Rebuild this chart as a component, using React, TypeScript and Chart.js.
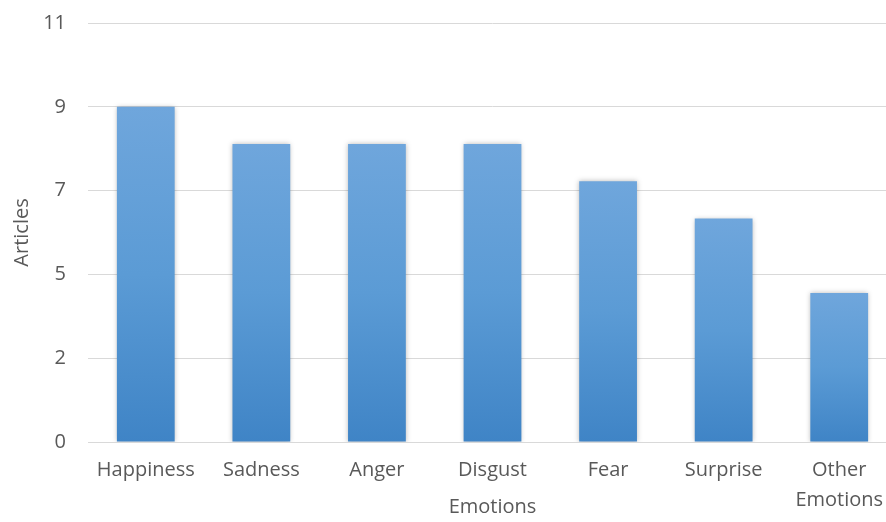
import React, { useEffect, useRef } from "react";
import { Chart, registerables } from "chart.js";

Chart.register(...registerables);

const categories: (string | string[])[] = [
  "Happiness",
  "Sadness",
  "Anger",
  "Disgust",
  "Fear",
  "Surprise",
  ["Other", "Emotions"],
];
const articles: number[] = [9, 8, 8, 8, 7, 6, 4];
const yMax = 11.25;
const yStep = 2.25;
const xTitle = "Emotions";
const yTitle = "Articles";

const FONT = "'Open Sans', 'DejaVu Sans', sans-serif";
const TEXT = "#595959";
const GRID = "#d9d9d9";

const shadowPlugin = {
  id: "barShadow",
  beforeDatasetsDraw(chart: any) {
    const ctx = chart.ctx;
    ctx.save();
    ctx.shadowColor = "rgba(0,0,0,0.28)";
    ctx.shadowBlur = 5;
    ctx.shadowOffsetX = 0;
    ctx.shadowOffsetY = 0;
  },
  afterDatasetsDraw(chart: any) {
    chart.ctx.restore();
  },
};

export default function App() {
  const ref = useRef<HTMLCanvasElement | null>(null);
  useEffect(() => {
    if (!ref.current) return;
    const chart = new Chart(ref.current, {
      type: "bar",
      data: {
        labels: categories,
        datasets: [
          {
            label: yTitle,
            data: articles,
            backgroundColor: (c: any) => {
              const chart = c.chart;
              const area = chart.chartArea;
              if (!area || c.dataIndex === undefined) return "#5b9bd5";
              const y = chart.scales.y;
              const v = c.dataset.data[c.dataIndex];
              const top = y.getPixelForValue(v);
              const bottom = y.getPixelForValue(0);
              if (!isFinite(top) || !isFinite(bottom) || top === bottom) return "#5b9bd5";
              const g = chart.ctx.createLinearGradient(0, top, 0, bottom);
              g.addColorStop(0, "#6fa6dc");
              g.addColorStop(0.5, "#5b9bd5");
              g.addColorStop(1, "#3f84c6");
              return g;
            },
            borderWidth: 0,
            barPercentage: 0.5,
            categoryPercentage: 1,
          },
        ],
      },
      options: {
        animation: false,
        responsive: true,
        maintainAspectRatio: false,
        layout: { padding: { top: 23, right: 0, left: 0, bottom: 0 } },
        plugins: {
          legend: { display: false },
          tooltip: { enabled: false },
        },
        scales: {
          x: {
            afterFit: (s: any) => {
              s.height = 80;
              s.paddingLeft = 0;
              s.paddingRight = 0;
            },
            grid: { display: false, drawTicks: false },
            border: { display: true, color: GRID, width: 1 },
            ticks: {
              color: TEXT,
              font: { family: FONT, size: 20, lineHeight: 1.5 },
              padding: 13,
              maxRotation: 0,
              autoSkip: false,
            },
            title: {
              display: true,
              text: xTitle,
              color: TEXT,
              font: { family: FONT, size: 20 },
              padding: { top: 0, bottom: 3 },
            },
          },
          y: {
            min: 0,
            max: yMax,
            afterFit: (s: any) => {
              s.width = 88;
              s.paddingTop = 0;
              s.paddingBottom = 0;
            },
            grid: { color: GRID, lineWidth: 1, drawTicks: false },
            border: { display: false },
            ticks: {
              stepSize: yStep,
              color: TEXT,
              font: { family: FONT, size: 20 },
              padding: 22,
              callback: (v: any) => String(Math.round(Number(v))),
            },
            title: {
              display: true,
              text: yTitle,
              color: TEXT,
              font: { family: FONT, size: 20 },
              padding: { top: 10, bottom: 0 },
            },
          },
        },
      },
      plugins: [shadowPlugin],
    });
    return () => chart.destroy();
  }, []);
  return (
    <div
      style={{
        position: "fixed",
        left: 0,
        top: 0,
        width: 886,
        height: 522,
        overflow: "hidden",
        background: "#fff",
      }}
    >
      <div style={{ position: "relative", width: 897, height: 522 }}>
        <canvas ref={ref} />
      </div>
    </div>
  );
}
